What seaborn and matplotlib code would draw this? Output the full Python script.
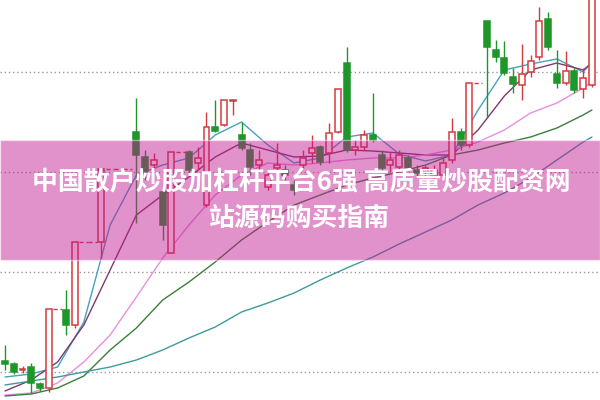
"""
K-line chart with moving averages and a pink title banner.
Output : out.png (600x400)
"""

import pandas as pd
import matplotlib
matplotlib.use('Agg')
import matplotlib.pyplot as plt
from matplotlib.patches import Rectangle
import seaborn as sns

# ── Colours ───────────────────────────────────────────────────
UP      = '#d43a40'
DOWN    = '#1f962a'
GRID    = '#9a9a9a'
BANNER  = '#c21791'
MA_COLS = {'MA5': '#45a2bd', 'MA10': '#7c3b6c', 'MA20': '#e78fe0',
           'MA30': '#3d7d3a', 'MA60': '#3f9a9c'}

# ── Data ──────────────────────────────────────────────────────
opens = [11.1, 10.8, 10.2, 10.5, 8.8, 8.4, 16.3, 16.2, 14.7, 23.0,
         23.0, 23.0, 30.3, 30.3, 30.3, 34.0, 31.5, 30.7, 28.0, 21.9,
         32.0, 32.0, 30.9, 26.7, 34.5, 34.7, 37.1, 33.7, 32.2, 30.7,
         28.5, 30.4, 30.2, 28.7, 30.7, 31.9, 32.5, 31.9, 34.0, 40.9,
         32.2, 32.5, 33.7, 31.7, 30.7, 30.5, 31.4, 30.2, 30.0, 29.7,
         29.7, 31.2, 34.0, 32.7, 38.9, 45.1, 42.2, 41.4, 39.5, 38.7,
         40.0, 41.5, 45.3, 39.8, 38.9, 40.1, 38.3, 38.7]
closes = [10.8, 10.0, 10.3, 8.9, 8.4, 16.3, 16.3, 14.7, 23.0, 23.0,
          23.0, 30.3, 30.3, 30.3, 30.3, 31.7, 30.1, 31.2, 24.7, 32.0,
          32.0, 30.2, 31.4, 34.5, 34.1, 37.2, 37.2, 32.4, 30.5, 31.2,
          29.7, 30.7, 29.7, 28.2, 31.4, 32.4, 31.0, 33.9, 38.3, 32.2,
          32.5, 33.7, 33.2, 30.4, 31.2, 31.7, 30.4, 29.9, 30.4, 30.2,
          30.9, 34.0, 32.7, 38.9, 38.9, 42.5, 41.5, 39.9, 38.8, 39.8,
          41.1, 45.1, 42.5, 38.9, 40.1, 38.2, 39.4, 47.7]
highs = [12.7, 11.0, 10.6, 10.9, 9.0, 16.3, 16.3, 18.2, 23.0, 23.0,
         23.0, 30.3, 30.3, 30.3, 30.3, 37.4, 32.2, 31.9, 28.5, 32.0,
         32.0, 32.2, 32.5, 36.0, 37.2, 37.2, 37.2, 35.0, 32.9, 32.2,
         30.2, 32.9, 30.7, 29.2, 32.2, 33.7, 32.7, 34.9, 38.3, 42.5,
         33.2, 34.2, 37.9, 32.2, 32.0, 32.2, 31.7, 30.7, 30.7, 30.7,
         31.4, 35.4, 34.4, 38.9, 38.9, 45.1, 43.2, 43.1, 40.4, 42.8,
         41.7, 46.5, 46.0, 42.2, 42.1, 40.4, 40.4, 48.2]
lows = [10.2, 9.8, 9.9, 7.9, 8.1, 8.0, 16.3, 13.7, 14.4, 23.0,
        23.0, 21.4, 30.3, 30.3, 30.3, 24.9, 29.2, 30.2, 23.2, 21.9,
        32.0, 30.0, 30.2, 26.5, 34.0, 34.6, 35.7, 32.2, 29.7, 30.0,
        28.2, 28.2, 29.2, 27.7, 30.4, 30.9, 30.7, 30.9, 33.9, 32.0,
        31.7, 32.2, 33.0, 30.2, 30.0, 30.0, 30.2, 29.4, 29.4, 29.2,
        29.4, 30.9, 32.2, 32.5, 38.9, 35.4, 41.0, 39.7, 37.9, 37.2,
        39.5, 41.2, 42.2, 38.4, 38.7, 37.9, 37.4, 38.5]

# moving averages, sampled every third session
ma_days = [0, 3, 6, 9, 12, 15, 18, 21, 24, 27, 30, 33, 36, 39, 42, 45,
           48, 51, 54, 57, 60, 63, 66, 67]
ma5  = [9.5, 9.8, 10.5, 15.0, 24.7, 29.7, 30.7, 31.4, 33.7, 35.0, 32.7, 30.9,
        31.4, 33.5, 33.9, 31.8, 31.1, 31.7, 36.2, 40.2, 40.8, 41.3, 40.0, 41.0]
ma10 = [8.1, 9.2, 11.0, 14.7, 20.2, 25.7, 27.7, 29.5, 31.5, 32.9, 32.2, 31.5,
        31.6, 32.2, 32.1, 31.9, 31.7, 31.7, 34.2, 37.6, 40.2, 40.9, 40.2, 40.9]
ma20 = [7.7, 7.9, 8.9, 11.0, 13.7, 17.5, 21.4, 24.7, 27.7, 29.7, 30.9, 30.7,
        30.9, 31.2, 31.4, 31.4, 31.7, 32.2, 33.0, 34.2, 35.9, 36.9, 38.4, 39.0]
ma30 = [7.6, 7.8, 8.4, 9.6, 12.2, 14.4, 17.2, 19.0, 21.0, 23.2, 25.0, 26.7,
        27.7, 28.7, 29.4, 30.0, 30.7, 31.7, 32.2, 32.9, 33.5, 34.4, 35.7, 36.2]
ma60 = [8.7, 9.1, 9.5, 10.0, 10.5, 11.2, 12.2, 13.4, 14.5, 16.0, 16.9, 17.9,
        19.2, 20.4, 21.5, 22.8, 24.0, 25.2, 26.7, 27.9, 29.4, 31.2, 33.0, 33.5]

grid_levels = [10, 20, 30, 40]

title_lines = ['中国散户炒股加杠杆平台6强 高质量炒股配资网', '站源码购买指南']

# ── Frames ────────────────────────────────────────────────────
k = pd.DataFrame({'open': opens, 'close': closes, 'high': highs, 'low': lows})
k['day'] = range(len(k))
k['up'] = k['close'] >= k['open']
k['flat'] = (k['high'] == k['low'])

ma = pd.DataFrame({'day': ma_days, 'MA5': ma5, 'MA10': ma10, 'MA20': ma20,
                   'MA30': ma30, 'MA60': ma60})
ma_long = ma.melt(id_vars='day', var_name='line', value_name='price')

# ── Plot ──────────────────────────────────────────────────────
sns.set_style('white')
plt.rcParams['font.family'] = ['Noto Sans CJK SC', 'DejaVu Sans']

fig = plt.figure(figsize=(6, 4), dpi=100, facecolor='white')
ax = fig.add_axes([0, 0, 1, 1])
ax.set_xlim(-0.57, 67.92)
ax.set_ylim(7.2, 47.2)
ax.axis('off')

for lvl in grid_levels:
    ax.axhline(lvl, color=GRID, lw=1.0, ls=(0, (1, 2)), zorder=0)

# moving averages
sns.lineplot(data=ma_long, x='day', y='price', hue='line',
             palette=MA_COLS, linewidth=1.0, legend=False, ax=ax, zorder=2)

# candles
w = 0.68
bars = k[~k['flat']]
colors = [UP if u else DOWN for u in bars['up']]
ax.vlines(bars['day'], bars['low'], bars['high'], colors=colors, lw=1.0, zorder=3)
ax.bar(bars['day'], (bars['close'] - bars['open']).abs().clip(lower=0.08),
       bottom=bars[['open', 'close']].min(axis=1), width=w,
       color=['white' if u else DOWN for u in bars['up']],
       edgecolor=colors, linewidth=1.1, zorder=4)

# one-price sessions drawn as dashed ticks
flat = k[k['flat']]
ax.hlines(flat['close'], flat['day'] - 0.5, flat['day'] + 0.5,
          colors=UP, lw=1.0, ls=(0, (3, 2)), zorder=3)

# ── Banner ────────────────────────────────────────────────────
fig.patches.append(Rectangle((0, 0.35), 1, 0.30, transform=fig.transFigure,
                             facecolor=BANNER, alpha=0.47, zorder=10))
fig.text(0.502, 0.5425, title_lines[0], ha='center', va='center', color='white',
         fontsize=18.6, fontweight='bold', zorder=11)
fig.text(0.5, 0.455, title_lines[1], ha='center', va='center', color='white',
         fontsize=18.6, fontweight='bold', zorder=11)

plt.savefig('out.png', dpi=100, facecolor='white')
print("Saved → out.png")
